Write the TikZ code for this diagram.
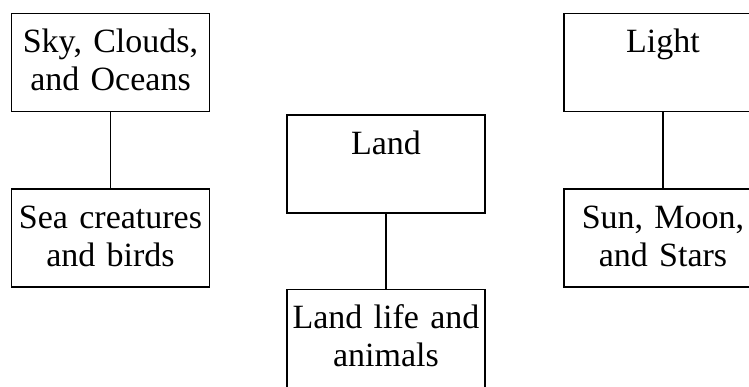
\documentclass[tikz,border=0pt]{standalone}
\usepackage{fontspec}
\setmainfont{Liberation Serif}
\begin{document}
\begin{tikzpicture}[box/.style={draw=black,line width=1.5pt,inner sep=0pt,text width=198pt,align=center,text height=39pt,text depth=59pt,font=\fontsize{34}{38}\selectfont}]
\useasboundingbox (0,0) rectangle (749pt,-386pt);
\clip (0,0) rectangle (749pt,-386pt);
\draw (110.5pt,-62.5pt) node[box] (SKY) {Sky, Clouds,\\and Oceans} +(0,-175.5pt) node[box] (SEA) {Sea creatures\\and birds};
\draw (386pt,-164pt) node[box] (LAND) {Land} +(0,-174.5pt) node[box] (LIFE) {Land life and\\animals};
\draw (663pt,-62.5pt) node[box] (LIGHT) {Light} +(0,-175.5pt) node[box] (SUN) {Sun, Moon,\\and Stars};
\draw[line width=1.5pt] (SKY)--(SEA);
\draw[line width=1.5pt] (LAND)--(LIFE);
\draw[line width=1.5pt] (LIGHT)--(SUN);
\end{tikzpicture}
\end{document}
